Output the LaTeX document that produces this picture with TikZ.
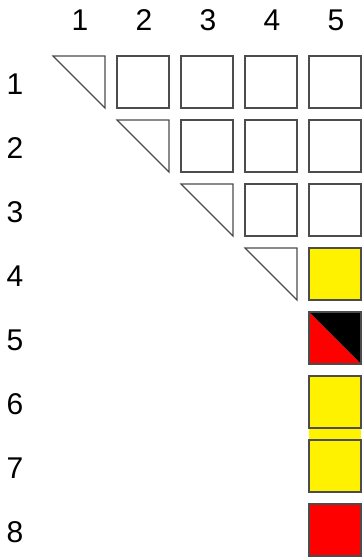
\documentclass[tikz,border=0pt]{standalone}
\usepackage{fontspec}
\setmainfont{Liberation Sans}
\begin{document}
\begin{tikzpicture}[x=1pt,y=-1pt,
  cell/.style={draw=black!70, line width=1.1pt},
  lbl/.style={font=\fontsize{30}{32}\selectfont, inner sep=0pt, anchor=center}]
\useasboundingbox (0,0) rectangle (362,558);
% column labels
\foreach \c in {1,...,5}{
  \node[lbl] (col\c) at ({79+64*(\c-1)+1}, 20.5) {\c};
}
% row labels
\foreach \r in {1,...,8}{
  \node[lbl] (row\r) at (15, {82+64*(\r-1)+2}) {\r};
}
% yellow strip between rows 6 and 7
\fill[yellow] (309,428) rectangle (361,440);
% diagonal triangles
\foreach \r in {1,...,4}{
  \pgfmathsetmacro{\xa}{53+64*(\r-1)}
  \pgfmathsetmacro{\ya}{56+64*(\r-1)}
  \draw[cell, fill=white, line join=miter] (\xa,\ya) -- (\xa+52,\ya) -- (\xa+52,\ya+52) -- cycle;
}
% empty squares
\foreach \r/\c in {1/2,1/3,1/4,1/5,2/3,2/4,2/5,3/4,3/5}{
  \pgfmathsetmacro{\xa}{53+64*(\c-1)}
  \pgfmathsetmacro{\ya}{56+64*(\r-1)}
  \draw[cell, fill=white] (\xa,\ya) rectangle (\xa+52,\ya+52);
}
% coloured cells in column 5
\draw[cell, fill=yellow] (309,248) rectangle (361,300);
\fill[black] (309,312) -- (361,312) -- (361,364) -- cycle;
\fill[red] (309,312) -- (361,364) -- (309,364) -- cycle;
\draw[cell] (309,312) rectangle (361,364);
\draw[cell, fill=yellow] (309,376) rectangle (361,428);
\draw[cell, fill=yellow] (309,440) rectangle (361,492);
\draw[cell, fill=red] (309,504) rectangle (361,556);
\end{tikzpicture}
\end{document}
